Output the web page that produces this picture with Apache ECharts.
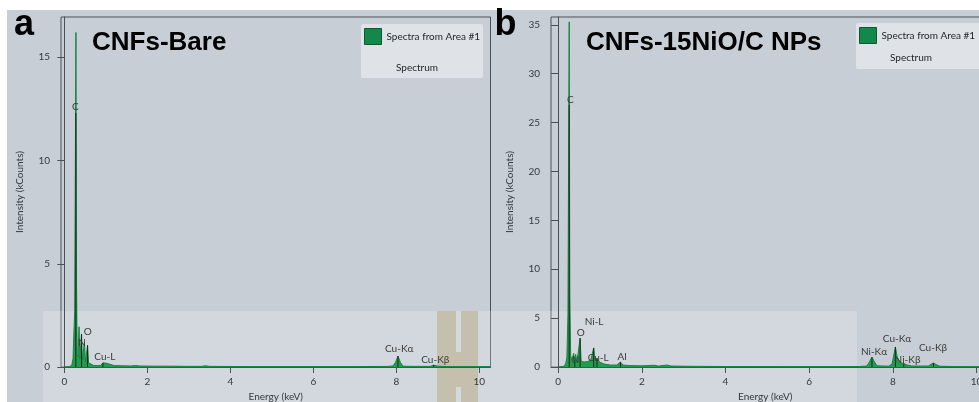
<!DOCTYPE html>
<html>
<head>
<meta charset="utf-8">
<title>EDS spectra</title>
<script src="https://cdn.jsdelivr.net/npm/echarts@6/dist/echarts.min.js"></script>
<style>
    html, body { margin: 0; padding: 0; background: #c7ced5; }
    #chart { width: 979px; height: 402px; }
</style>
</head>
<body>
<div id="chart"></div>
<script>
    // panel a : CNFs-Bare
    var energyA = [0.00, 0.12, 0.18, 0.21, 0.23, 0.25, 0.265, 0.28, 0.295, 0.31, 0.33, 0.355, 0.375, 0.395, 0.415, 0.435, 0.46, 0.485, 0.51, 0.535, 0.56, 0.585, 0.62, 0.70, 0.80, 0.88, 0.93, 0.96, 1.02, 1.06, 1.20, 1.40, 1.60, 1.72, 1.80, 2.20, 2.60, 3.00, 3.30, 3.40, 3.50, 4.50, 6.00, 7.00, 7.80, 7.92, 7.98, 8.04, 8.10, 8.16, 8.40, 8.82, 8.90, 9.00, 9.20, 10.00, 10.27];
    var countsA = [0.00, 0.02, 0.08, 0.40, 1.60, 2.70, 9.40, 16.20, 4.00, 0.60, 0.50, 1.95, 0.40, 0.35, 1.60, 0.35, 0.30, 1.20, 0.25, 0.30, 1.05, 0.20, 0.12, 0.08, 0.07, 0.08, 0.20, 0.12, 0.18, 0.10, 0.07, 0.06, 0.05, 0.07, 0.05, 0.04, 0.04, 0.03, 0.03, 0.06, 0.03, 0.02, 0.02, 0.02, 0.03, 0.05, 0.22, 0.53, 0.22, 0.04, 0.03, 0.03, 0.09, 0.04, 0.02, 0.02, 0.02];

    // panel b : CNFs-15NiO/C NPs
    var energyB = [0.00, 0.12, 0.18, 0.21, 0.235, 0.25, 0.265, 0.28, 0.30, 0.33, 0.37, 0.40, 0.42, 0.45, 0.49, 0.525, 0.55, 0.62, 0.70, 0.78, 0.85, 0.88, 0.93, 0.97, 1.02, 1.10, 1.25, 1.40, 1.49, 1.55, 1.70, 2.00, 2.30, 2.40, 2.60, 2.70, 3.20, 4.00, 5.50, 6.50, 7.20, 7.38, 7.45, 7.50, 7.55, 7.62, 7.90, 7.98, 8.03, 8.06, 8.10, 8.16, 8.26, 8.34, 8.45, 8.85, 8.92, 8.97, 9.03, 9.12, 9.50, 10.07];
    var countsB = [0.00, 0.05, 0.30, 1.00, 5.30, 20.50, 35.30, 7.40, 1.20, 0.60, 1.40, 0.70, 1.30, 0.50, 0.60, 2.95, 0.60, 0.50, 0.55, 0.70, 1.95, 0.80, 0.90, 0.60, 0.45, 0.30, 0.20, 0.20, 0.50, 0.20, 0.15, 0.12, 0.18, 0.10, 0.20, 0.10, 0.07, 0.05, 0.04, 0.04, 0.05, 0.10, 0.60, 1.00, 0.60, 0.12, 0.08, 0.30, 1.40, 2.05, 1.10, 0.45, 0.35, 0.20, 0.10, 0.10, 0.30, 0.40, 0.25, 0.08, 0.04, 0.03];

    var xTicks = [0, 2, 4, 6, 8, 10];

    // element markers : energy, line height, label energy, label height
    var peakNamesA = ['C', 'N', 'O', 'Cu-L', 'Cu-Kα', 'Cu-Kβ'];
    var peakEnergyA = [0.277, 0.415, 0.56, 0.93, 8.04, 8.90];
    var peakHeightA = [12.3, 1.6, 1.05, 0.2, 0.53, 0.09];
    var labelEnergyA = [0.265, 0.43, 0.566, 0.976, 8.07, 8.94];
    var labelHeightA = [12.6, 1.16, 1.71, 0.48, 0.87, 0.34];

    var peakNamesB = ['C', 'N', 'O', 'Ni-L', 'Cu-L', 'Al', 'Ni-Kα', 'Cu-Kα', 'Ni-Kβ', 'Cu-Kβ'];
    var peakEnergyB = [0.265, 0.40, 0.525, 0.85, 0.93, 1.49, 7.50, 8.06, 8.26, 8.97];
    var peakHeightB = [26.8, 0.7, 2.95, 1.95, 0.9, 0.5, 1.0, 2.05, 0.35, 0.4];
    var labelEnergyB = [0.29, 0.42, 0.54, 0.86, 0.957, 1.53, 7.55, 8.10, 8.35, 8.96];
    var labelHeightB = [27.3, 0.72, 3.48, 4.6, 0.92, 1.02, 1.54, 2.87, 0.72, 1.94];

    var seriesName = 'Spectra from Area #1';
    var axisColor = '#4b5056';
    var textColor = '#34393e';
    var font = 'Lato, "Noto Sans", sans-serif';

    function zip(a, b) {
        var out = [];
        for (var i = 0; i < a.length; i++) {
            out.push([a[i], b[i]]);
        }
        return out;
    }

    function markerRows(e, h, le, lh) {
        var out = [];
        for (var i = 0; i < e.length; i++) {
            out.push([e[i], h[i], le[i], lh[i]]);
        }
        return out;
    }

    function markerRender(names) {
        return function (params, api) {
            var base = api.coord([api.value(0), 0]),
                top = api.coord([api.value(0), api.value(1)]),
                lab = api.coord([api.value(2), api.value(3)]);
            return {
                type: 'group',
                children: [
                    {
                        type: 'line',
                        shape: { x1: base[0], y1: base[1], x2: top[0], y2: top[1] },
                        style: { stroke: '#1d2520', lineWidth: 1 }
                    },
                    {
                        type: 'text',
                        x: lab[0],
                        y: lab[1],
                        z2: 10,
                        style: {
                            text: names[params.dataIndex],
                            fill: '#3a3a3a',
                            font: '10px ' + font,
                            align: 'center',
                            verticalAlign: 'middle'
                        }
                    }
                ]
            };
        };
    }

    function xAxisOpt(grid, min, max) {
        return {
            type: 'value',
            gridIndex: grid,
            min: min,
            max: max,
            z: 4,
            name: 'Energy (keV)',
            nameLocation: 'middle',
            nameGap: 23,
            nameTextStyle: { color: textColor, fontSize: 10, fontFamily: font },
            axisLine: { show: true, lineStyle: { color: axisColor, width: 1 } },
            axisTick: { show: true, length: 6, customValues: xTicks, lineStyle: { color: axisColor } },
            axisLabel: { customValues: xTicks, margin: 10, color: textColor, fontSize: 10, fontFamily: font },
            splitLine: { show: false }
        };
    }

    function yAxisOpt(grid, max) {
        return {
            type: 'value',
            gridIndex: grid,
            min: 0,
            max: max,
            interval: 5,
            z: 4,
            name: 'Intensity (kCounts)',
            nameLocation: 'middle',
            nameGap: 36,
            nameTextStyle: { color: textColor, fontSize: 10, fontFamily: font },
            axisLine: { show: true, lineStyle: { color: axisColor, width: 1 } },
            axisTick: { show: true, length: 7, lineStyle: { color: axisColor } },
            axisLabel: { margin: 11, color: textColor, fontSize: 10, fontFamily: font, showMaxLabel: false },
            splitLine: { show: false }
        };
    }

    function legendOpt(left, top) {
        return {
            left: left,
            top: top,
            padding: [4, 0, 0, 3],
            itemWidth: 17,
            itemHeight: 16,
            itemGap: 4,
            selectedMode: false,
            z: 6,
            textStyle: { color: '#1e2124', fontSize: 10, fontFamily: font },
            data: [{
                name: seriesName,
                icon: 'rect',
                itemStyle: { color: '#12894a', borderColor: '#0c5a2e', borderWidth: 1 }
            }]
        };
    }

    function spectrumSeries(idx, data) {
        return {
            type: 'line',
            name: seriesName,
            xAxisIndex: idx,
            yAxisIndex: idx,
            data: data,
            symbol: 'none',
            showSymbol: false,
            silent: true,
            z: 2,
            lineStyle: { color: '#17853f', width: 1 },
            areaStyle: { color: '#1f9f4c', opacity: 1 },
            itemStyle: { color: '#12894a' }
        };
    }

    var chart = echarts.init(document.getElementById('chart'));

    chart.setOption({
        animation: false,
        backgroundColor: '#c7ced5',
        grid: [
            { left: 61, top: 17, width: 429.5, height: 350, outerBoundsMode: 'none', containLabel: false, show: true, borderColor: axisColor, borderWidth: 1, z: 0 },
            { left: 551, top: 17, width: 428.5, height: 350, outerBoundsMode: 'none', containLabel: false, show: true, borderColor: axisColor, borderWidth: 1, z: 0 }
        ],
        xAxis: [xAxisOpt(0, -0.08, 10.27), xAxisOpt(1, -0.17, 10.07)],
        yAxis: [yAxisOpt(0, 16.95), yAxisOpt(1, 35.8)],
        legend: [legendOpt(361, 24), legendOpt(856, 23)],
        graphic: [
            { type: 'rect', z: 0, shape: { x: 0, y: 0, width: 979, height: 10 }, style: { fill: '#ffffff' } },
            { type: 'rect', z: 0, shape: { x: 0, y: 0, width: 7, height: 402 }, style: { fill: '#ffffff' } },
            { type: 'rect', z: 1, shape: { x: 43, y: 311, width: 814, height: 91 }, style: { fill: 'rgba(255,255,255,0.22)' } },
            { type: 'rect', z: 1, shape: { x: 437, y: 311, width: 41, height: 91 }, style: { fill: '#c5bfae' } },
            { type: 'rect', z: 1, shape: { x: 456, y: 311, width: 5, height: 41 }, style: { fill: '#d4d9de' } },
            { type: 'rect', z: 1, shape: { x: 456, y: 387, width: 5, height: 15 }, style: { fill: '#d4d9de' } },
            { type: 'rect', z: 1, shape: { x: 361, y: 24, width: 122, height: 54, r: 2 }, style: { fill: '#dfe3e8' } },
            { type: 'rect', z: 1, shape: { x: 856, y: 23, width: 125, height: 46, r: 2 }, style: { fill: '#dfe3e8' } },
            { type: 'text', z: 6, x: 417, y: 68, style: { text: 'Spectrum', fill: '#1e2124', font: '10px ' + font, align: 'center', verticalAlign: 'middle' } },
            { type: 'text', z: 6, x: 911, y: 58, style: { text: 'Spectrum', fill: '#1e2124', font: '10px ' + font, align: 'center', verticalAlign: 'middle' } },
            { type: 'text', z: 6, x: 14, y: 25.5, style: { text: 'a', fill: '#000000', font: 'bold 36px "Liberation Sans", Arial, sans-serif', verticalAlign: 'middle' } },
            { type: 'text', z: 6, x: 494.5, y: 25.5, style: { text: 'b', fill: '#000000', font: 'bold 36px "Liberation Sans", Arial, sans-serif', verticalAlign: 'middle' } },
            { type: 'text', z: 6, x: 92, y: 43, style: { text: 'CNFs-Bare', fill: '#000000', font: 'bold 26px "Liberation Sans", Arial, sans-serif', verticalAlign: 'middle' } },
            { type: 'text', z: 6, x: 586, y: 43, style: { text: 'CNFs-15NiO/C NPs', fill: '#000000', font: 'bold 26px "Liberation Sans", Arial, sans-serif', verticalAlign: 'middle' } }
        ],
        series: [
            spectrumSeries(0, zip(energyA, countsA)),
            spectrumSeries(1, zip(energyB, countsB)),
            {
                type: 'custom',
                xAxisIndex: 0,
                yAxisIndex: 0,
                z: 3,
                silent: true,
                clip: false,
                renderItem: markerRender(peakNamesA),
                data: markerRows(peakEnergyA, peakHeightA, labelEnergyA, labelHeightA)
            },
            {
                type: 'custom',
                xAxisIndex: 1,
                yAxisIndex: 1,
                z: 3,
                silent: true,
                clip: false,
                renderItem: markerRender(peakNamesB),
                data: markerRows(peakEnergyB, peakHeightB, labelEnergyB, labelHeightB)
            }
        ]
    });
</script>
</body>
</html>
